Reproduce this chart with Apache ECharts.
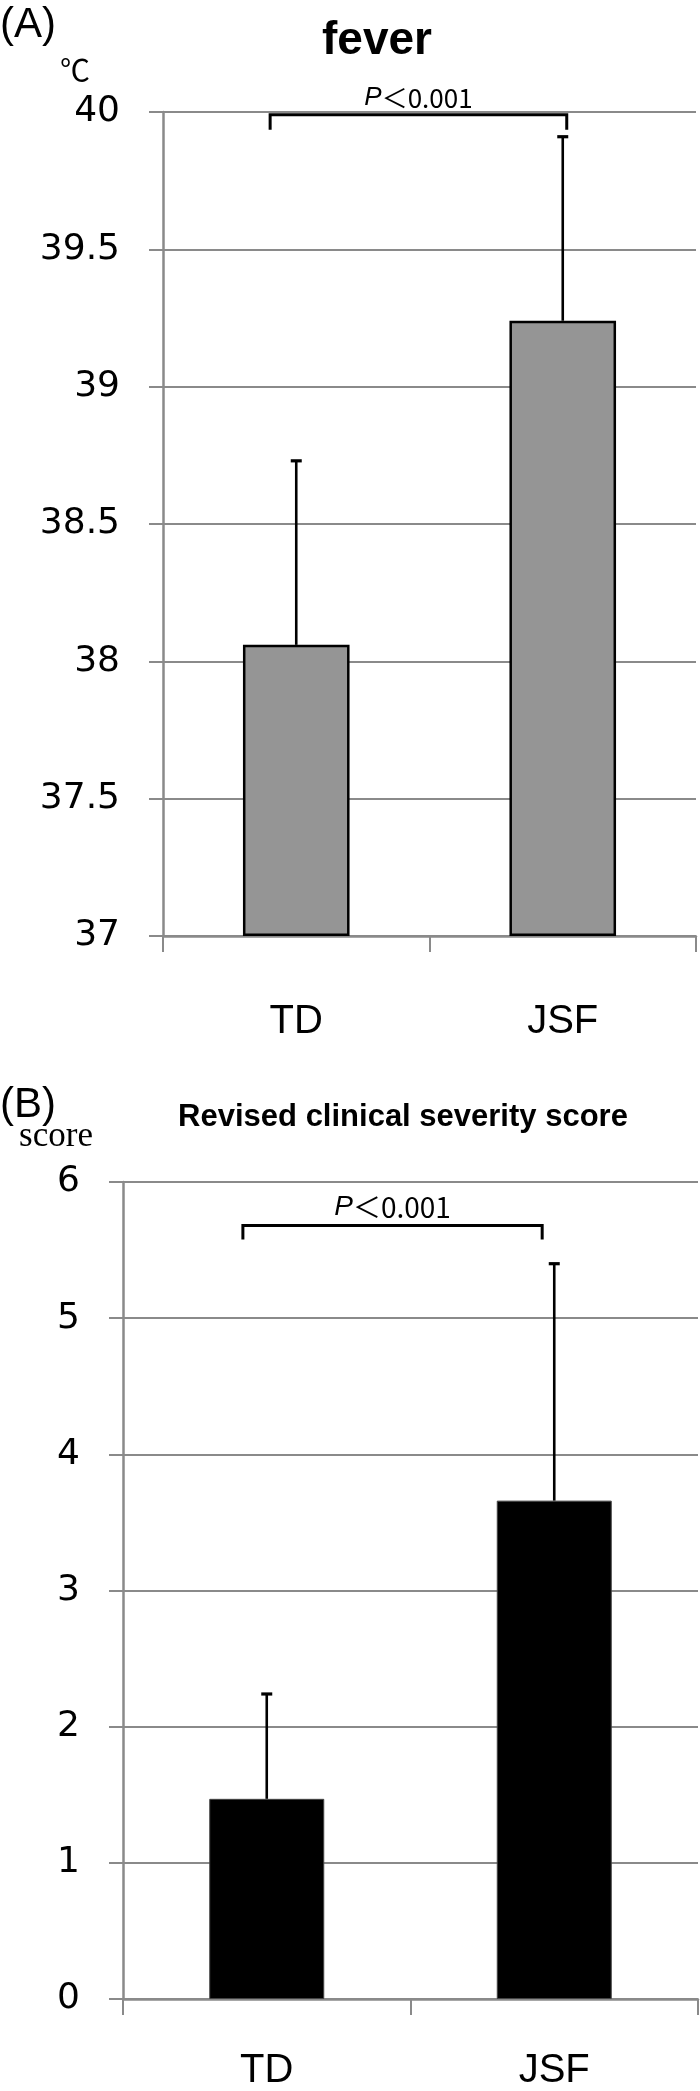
<!DOCTYPE html>
<html><head><meta charset="utf-8">
<script src="https://cdn.jsdelivr.net/npm/echarts@6/dist/echarts.min.js"></script>
<style>html,body{margin:0;padding:0;background:#fff}#c{width:700px;height:2091px}</style>
</head><body><div id="c"></div>
<script>
// ---- data ----
const categories = ['TD', 'JSF'];
const feverMean = [38.06, 39.24];
const feverSD = [0.67, 0.67];
const feverRange = [37, 40];
const feverStep = 0.5;
const scoreMean = [1.47, 3.66];
const scoreSD = [0.77, 1.74];
const scoreRange = [0, 6];
const scoreStep = 1;
const feverBracketY = 39.99;
const scoreBracketY = 5.68;
const pLabel = ['P', '＜0.001'];
const titles = ['fever', 'Revised clinical severity score'];
const panelLabels = ['(A)', '(B)'];
const unitLabels = ['℃', 'score'];

// ---- chart ----
const GRID = '#8a8a8a';
const chart = echarts.init(document.getElementById('c'));

function xAxisCfg(gridIndex, margin) {
  return {
    type: 'category', gridIndex, data: categories, boundaryGap: true,
    axisLine: { show: true, lineStyle: { color: GRID, width: 2.5 } },
    axisTick: { show: true, length: 16, lineStyle: { color: GRID, width: 2 } },
    axisLabel: { color: '#000', fontSize: 40, fontFamily: 'Liberation Sans', margin }
  };
}
function yAxisCfg(gridIndex, range, step) {
  return {
    type: 'value', gridIndex, min: range[0], max: range[1], interval: step, startValue: range[0],
    axisLine: { show: true, lineStyle: { color: GRID, width: 2.5 } },
    axisTick: { show: true, length: 14, lineStyle: { color: GRID, width: 2 } },
    splitLine: { show: true, lineStyle: { color: GRID, width: 2 } },
    axisLabel: { color: '#000', fontSize: 36, fontFamily: 'DejaVu Sans', margin: 43 }
  };
}
function errorSeries(idx, means, sds) {
  return {
    type: 'custom', xAxisIndex: idx, yAxisIndex: idx, z: 5,
    data: means.map((m, i) => [i, m, m + sds[i]]),
    renderItem(params, api) {
      const b = api.coord([api.value(0), api.value(1)]);
      const t = api.coord([api.value(0), api.value(2)]);
      const hw = 5.5;
      return { type: 'group', children: [
        { type: 'line', shape: { x1: b[0], y1: b[1], x2: t[0], y2: t[1] }, style: { stroke: '#000', lineWidth: 2.6 } },
        { type: 'line', shape: { x1: t[0] - hw, y1: t[1], x2: t[0] + hw, y2: t[1] }, style: { stroke: '#000', lineWidth: 3.2 } }
      ] };
    }
  };
}
function bracketSeries(idx, yVal, leftOff, rightOff, legLen, textGap, fs) {
  return {
    type: 'custom', xAxisIndex: idx, yAxisIndex: idx, z: 6, clip: false,
    data: [[0, 1, yVal]],
    renderItem(params, api) {
      const band = api.size([1, 0])[0];
      const p0 = api.coord([api.value(0), api.value(2)]);
      const p1 = api.coord([api.value(1), api.value(2)]);
      const xl = p0[0] + leftOff * band, xr = p1[0] + rightOff * band, y = p0[1];
      return { type: 'group', children: [
        { type: 'polyline', shape: { points: [[xl, y + legLen], [xl, y], [xr, y], [xr, y + legLen]] },
          style: { stroke: '#000', lineWidth: 3, fill: null } },
        { type: 'text', x: (xl + xr) / 2, y: y - textGap,
          style: { text: '{i|' + pLabel[0] + '}{n|' + pLabel[1] + '}', align: 'center', verticalAlign: 'middle',
            rich: {
              i: { fontStyle: 'italic', fontFamily: 'Liberation Sans', fontSize: fs, fill: '#000' },
              n: { fontFamily: 'Noto Sans CJK JP', fontSize: fs, fill: '#000' }
            } } }
      ] };
    }
  };
}

const option = {
  animation: false,
  backgroundColor: '#fff',
  grid: [
    { left: 163, top: 112, right: 4, height: 824 },
    { left: 123, top: 1182, right: 2, height: 823 }
  ],
  xAxis: [xAxisCfg(0, 66), xAxisCfg(1, 52)],
  yAxis: [yAxisCfg(0, feverRange, feverStep), yAxisCfg(1, scoreRange, scoreStep)],
  graphic: [
    { type: 'text', x: 0, y: 25, style: { text: panelLabels[0], font: '42px "Liberation Sans"', fill: '#000', verticalAlign: 'middle' } },
    { type: 'text', x: 377, y: 41, style: { text: titles[0], font: 'bold 46px "Liberation Sans"', fill: '#000', align: 'center', verticalAlign: 'middle' } },
    { type: 'text', x: 75, y: 70, style: { text: unitLabels[0], font: '30px "Noto Sans CJK JP"', fill: '#000', align: 'center', verticalAlign: 'middle' } },
    { type: 'text', x: 0, y: 1105, style: { text: panelLabels[1], font: '42px "Liberation Sans"', fill: '#000', verticalAlign: 'middle' } },
    { type: 'text', x: 403, y: 1117, style: { text: titles[1], font: 'bold 31px "Liberation Sans"', fill: '#000', align: 'center', verticalAlign: 'middle' } },
    { type: 'text', x: 56, y: 1137, style: { text: unitLabels[1], font: '35px "Liberation Serif"', fill: '#000', align: 'center', verticalAlign: 'middle' } }
  ],
  series: [
    { type: 'bar', xAxisIndex: 0, yAxisIndex: 0, data: feverMean, barWidth: '40%',
      itemStyle: { color: '#959595', borderColor: '#000', borderWidth: 2.5 } },
    errorSeries(0, feverMean, feverSD),
    bracketSeries(0, feverBracketY, -0.098, 0.015, 15, 17, 26),
    { type: 'bar', xAxisIndex: 1, yAxisIndex: 1, data: scoreMean, barWidth: '40%',
      itemStyle: { color: '#000', borderColor: '#444', borderWidth: 1 } },
    errorSeries(1, scoreMean, scoreSD),
    bracketSeries(1, scoreBracketY, -0.083, -0.042, 14, 18, 28)
  ]
};
chart.setOption(option);
</script></body></html>
